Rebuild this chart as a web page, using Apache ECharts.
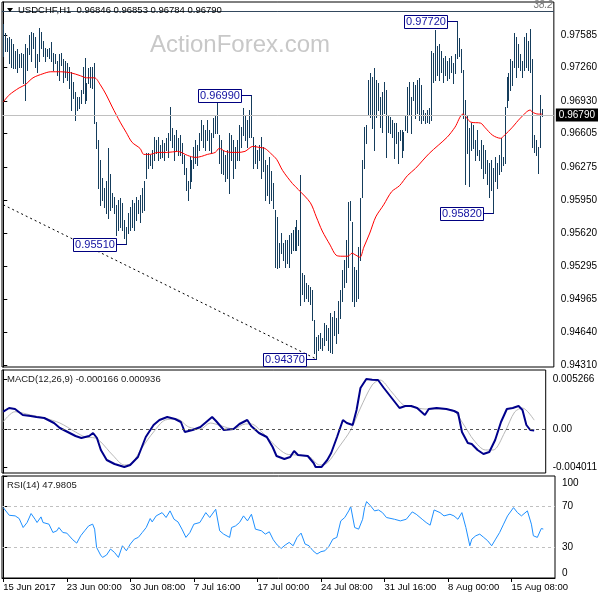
<!DOCTYPE html>
<html><head><meta charset="utf-8">
<script src="https://cdn.jsdelivr.net/npm/echarts@6/dist/echarts.min.js"></script>
<style>html,body{margin:0;padding:0;background:#fff}#c{width:600px;height:600px}</style>
</head><body><div id="c"></div>
<script>
const symbolName = 'USDCHF,H1';
const lastOHLC = [0.96846, 0.96853, 0.96784, 0.96790];
const lastPrice = 0.96790;
const watermark = 'ActionForex.com';

const barHigh = [
0.9769,0.9760,0.9755,0.9756,0.9754,0.9750,0.9743,0.9745,0.9740,0.9741,
0.9740,0.9750,0.9746,0.9758,0.9761,0.9760,0.9756,0.9740,0.9765,0.9761,
0.9753,0.9746,0.9745,0.9746,0.9752,0.9741,0.9740,0.9733,0.9740,0.9741,
0.9735,0.9733,0.9731,0.9727,0.9722,0.9712,0.9702,0.9697,0.9697,0.9704,
0.9727,0.9736,0.9711,0.9726,0.9727,0.9727,0.9731,0.9672,0.9654,0.9634,
0.9617,0.9607,0.9614,0.9646,0.9621,0.9602,0.9598,0.9590,0.9595,0.9597,
0.9592,0.9575,0.9568,0.9582,0.9588,0.9595,0.9592,0.9598,0.9595,0.9600,
0.9607,0.9614,0.9641,0.9641,0.9639,0.9644,0.9657,0.9654,0.9657,0.9649,
0.9654,0.9651,0.9656,0.9661,0.9687,0.9666,0.9659,0.9664,0.9656,0.9659,
0.9651,0.9639,0.9627,0.9614,0.9637,0.9634,0.9647,0.9654,0.9649,0.9661,
0.9674,0.9669,0.9664,0.9674,0.9664,0.9661,0.9676,0.9679,0.9694,0.9659,
0.9654,0.9644,0.9639,0.9644,0.9661,0.9659,0.9654,0.9647,0.9654,0.9669,
0.9667,0.9686,0.9679,0.9674,0.9684,0.9699,0.9657,0.9649,0.9644,0.9649,
0.9657,0.9647,0.9634,0.9629,0.9637,0.9624,0.9612,0.9585,0.9578,0.9552,
0.9562,0.9552,0.9555,0.9555,0.9560,0.9562,0.9565,0.9568,0.9575,0.9565,
0.9620,0.9522,0.9520,0.9512,0.9510,0.9508,0.9505,0.9476,0.9459,0.9461,
0.9463,0.9458,0.9473,0.9471,0.9468,0.9483,0.9479,0.9485,0.9478,0.9495,
0.9505,0.9525,0.9535,0.9555,0.9593,0.9594,0.9573,0.9528,0.9525,0.9548,
0.9597,0.9634,0.9667,0.9669,0.9714,0.9721,0.9717,0.9726,0.9714,0.9711,
0.9697,0.9702,0.9712,0.9704,0.9679,0.9677,0.9674,0.9671,0.9671,0.9662,
0.9664,0.9664,0.9662,0.9679,0.9707,0.9712,0.9697,0.9712,0.9709,0.9714,
0.9716,0.9709,0.9684,0.9681,0.9684,0.9686,0.9743,0.9741,0.9763,0.9748,
0.9750,0.9743,0.9736,0.9738,0.9733,0.9736,0.9738,0.9731,0.9740,0.9772,
0.9755,0.9745,0.9724,0.9694,0.9679,0.9666,0.9671,0.9669,0.9654,0.9664,
0.9644,0.9654,0.9649,0.9644,0.9634,0.9631,0.9634,0.9627,0.9637,0.9631,
0.9639,0.9656,0.9637,0.9687,0.9717,0.9721,0.9735,0.9733,0.9760,0.9756,
0.9750,0.9740,0.9733,0.9756,0.9760,0.9753,0.9764,0.9735,0.9659,0.9654,
0.9647,0.9699,0.96853];

const barLow = [
0.9738,0.9743,0.9743,0.9731,0.9727,0.9726,0.9726,0.9722,0.9727,0.9727,
0.9711,0.9694,0.9724,0.9740,0.9733,0.9746,0.9727,0.9722,0.9733,0.9746,
0.9738,0.9733,0.9738,0.9736,0.9733,0.9724,0.9731,0.9719,0.9714,0.9729,
0.9712,0.9717,0.9714,0.9706,0.9684,0.9696,0.9674,0.9684,0.9686,0.9691,
0.9701,0.9691,0.9694,0.9711,0.9707,0.9706,0.9671,0.9646,0.9607,0.9590,
0.9595,0.9588,0.9582,0.9577,0.9585,0.9588,0.9582,0.9560,0.9565,0.9568,
0.9565,0.9557,0.9551,0.9562,0.9565,0.9568,0.9565,0.9575,0.9582,0.9573,
0.9583,0.9585,0.9617,0.9627,0.9629,0.9627,0.9634,0.9641,0.9634,0.9636,
0.9637,0.9634,0.9644,0.9637,0.9654,0.9647,0.9634,0.9644,0.9639,0.9639,
0.9631,0.9621,0.9605,0.9595,0.9607,0.9614,0.9627,0.9631,0.9629,0.9644,
0.9654,0.9647,0.9644,0.9654,0.9644,0.9641,0.9657,0.9661,0.9661,0.9631,
0.9622,0.9621,0.9614,0.9617,0.9602,0.9634,0.9617,0.9627,0.9634,0.9634,
0.9647,0.9659,0.9654,0.9647,0.9657,0.9657,0.9627,0.9631,0.9627,0.9634,
0.9617,0.9624,0.9595,0.9600,0.9592,0.9595,0.9587,0.9528,0.9527,0.9528,
0.9542,0.9535,0.9528,0.9532,0.9528,0.9542,0.9545,0.9545,0.9545,0.9550,
0.9491,0.9502,0.9495,0.9498,0.9495,0.9492,0.9476,0.9443,0.9437,0.9446,
0.9448,0.9446,0.9451,0.9456,0.9446,0.9444,0.9443,0.9461,0.9453,0.9463,
0.9478,0.9495,0.9508,0.9513,0.9528,0.9575,0.9495,0.9490,0.9495,0.9498,
0.9535,0.9598,0.9627,0.9651,0.9679,0.9677,0.9666,0.9644,0.9677,0.9684,
0.9667,0.9662,0.9681,0.9637,0.9662,0.9661,0.9657,0.9636,0.9651,0.9631,
0.9654,0.9637,0.9644,0.9664,0.9662,0.9679,0.9661,0.9694,0.9676,0.9681,
0.9674,0.9671,0.9674,0.9671,0.9672,0.9671,0.9674,0.9712,0.9714,0.9719,
0.9714,0.9722,0.9712,0.9719,0.9714,0.9716,0.9722,0.9711,0.9721,0.9736,
0.9738,0.9722,0.9676,0.9611,0.9641,0.9609,0.9644,0.9646,0.9634,0.9639,
0.9634,0.9627,0.9617,0.9622,0.9611,0.9598,0.9605,0.9582,0.9614,0.9607,
0.9621,0.9624,0.9629,0.9631,0.9687,0.9694,0.9704,0.9709,0.9727,0.9717,
0.9727,0.9724,0.9717,0.9724,0.9727,0.9724,0.9722,0.9647,0.9642,0.9639,
0.9622,0.9647,0.96784];

const maIndex = [0,3,8,11,15,20,24,29,34,39,42,46,49,52,55,59,62,65,69,71,74,78,83,88,93,97,100,103,107,109,112,115,118,122,126,129,132,135,138,141,146,149,155,158,161,165,168,171,174,176,178,180,182,185,188,192,196,200,204,208,215,224,228,232,236,241,243,247,251,253,257,261,266,267,270,272];
const maValue = [0.9692,0.9699,0.9706,0.9709,0.9716,0.9720,0.9722,0.9722,0.9721,0.9718,0.9716,0.9716,0.9709,0.9699,0.9687,0.9672,0.9662,0.9652,0.9646,0.9640,0.9640,0.9642,0.9642,0.9643,0.9639,0.9637,0.9638,0.9640,0.9642,0.9646,0.9643,0.9642,0.9642,0.9643,0.9648,0.9647,0.9646,0.9641,0.9635,0.9624,0.9611,0.9605,0.9592,0.9578,0.9564,0.9550,0.9540,0.9539,0.9539,0.9542,0.9540,0.9538,0.9548,0.9562,0.9578,0.9590,0.9603,0.9609,0.9619,0.9626,0.9641,0.9657,0.9667,0.9680,0.9672,0.9671,0.9667,0.9659,0.9656,0.9659,0.9667,0.9676,0.9684,0.9682,0.9680,0.9680];

const trendIndex = [0, 158];
const trendPrice = [0.9590, 0.9437];
const extremeIndex = [62, 125, 158, 229, 247];
const extremePrice = [0.95510, 0.96990, 0.94370, 0.97720, 0.95820];
const fibLevel = 0.97823;
const fibText = '38.2';
const priceTicks = [0.94310,0.94640,0.94965,0.95295,0.95620,0.95950,0.96275,0.96605,0.96930,0.97260,0.97585];

const macdIndex = [0,3,6,10,14,17,21,26,29,33,37,40,44,46,48,50,53,57,62,65,69,73,77,80,84,88,91,93,97,101,104,107,109,113,118,121,125,127,131,135,138,140,144,147,149,151,156,159,160,163,166,168,171,174,176,179,181,183,186,189,192,195,199,203,206,209,212,216,218,222,227,231,233,235,238,240,243,246,249,252,255,258,261,264,266,268,270,272];
const macdValue = [0.001823,0.002213,0.002108,0.001476,0.001370,0.001265,0.001159,0.000632,0.000105,-0.000316,
-0.000738,-0.000949,-0.000738,-0.000422,-0.000949,-0.002213,-0.003267,-0.003689,-0.004011,-0.003794,
-0.002951,-0.000843,0.000422,0.000949,0.001265,0.001054,0.000738,-0.000316,-0.000105,0.000211,
0.000738,0.001265,0.000843,-0.000105,0,0.000527,0.000949,0.000316,-0.000422,-0.000843,
-0.001897,-0.002846,-0.003162,-0.002951,-0.002319,-0.002740,-0.002846,-0.003584,-0.004011,-0.004011,
-0.003267,-0.002530,-0.000843,0.000949,0.000632,0.000422,0.002003,0.004321,0.005266,0.005200,
0.005165,0.004321,0.003267,0.002213,0.002424,0.002424,0.002213,0.001476,0.002108,0.002213,
0.002108,0.001897,0.001686,-0.000316,-0.001476,-0.001581,-0.002213,-0.002635,-0.002424,-0.001159,
0.000738,0.002108,0.002213,0.002424,0.002003,0.000422,-0.000105,-0.000166];
const signalIndex = [0,6,14,21,29,37,42,47,50,56,62,66,71,77,83,89,95,101,106,112,118,124,127,133,139,145,150,157,162,166,172,178,183,189,193,199,205,210,216,222,230,236,241,247,251,257,262,266,272];
const signalValue = [0.000769,0.001823,0.001476,0.001159,0.000632,-0.000316,-0.000843,-0.000949,-0.001370,-0.002740,
-0.003794,-0.003584,-0.002003,-0.000316,0.000949,0.001054,0.000211,0,0.000632,0.000316,
0,0.000527,0.000527,-0.000422,-0.001686,-0.002635,-0.002740,-0.002951,-0.003794,-0.003584,
-0.001897,-0.000105,0.002213,0.004638,0.005165,0.003900,0.002530,0.002319,0.002108,0.002108,
0.002003,0.000422,-0.001159,-0.002213,-0.002213,-0.000316,0.001792,0.002213,0.000936];
const macdTicks = [0.005266, 0, -0.004011];

const rsiIndex = [0,1,3,6,8,9,10,12,14,16,17,19,20,23,25,27,28,30,32,35,37,39,41,43,45,46,47,49,50,52,54,56,58,60,62,64,66,68,70,72,74,75,77,80,82,84,86,88,90,92,94,96,99,100,102,104,107,109,111,114,115,117,119,121,123,125,127,130,132,134,136,138,140,142,144,146,148,150,152,154,156,158,160,162,164,166,168,170,172,174,175,177,179,181,182,183,185,187,189,191,193,197,200,203,206,208,209,211,213,215,217,220,222,225,227,229,231,233,235,236,238,240,242,244,246,248,250,252,254,257,259,261,262,264,266,267,269,271,272];
const rsiValue = [69.0,68.0,61.5,60.9,58.3,59.3,49.5,54.4,63.2,57.6,
54.4,59.9,54.4,52.8,44.6,46.3,49.5,44.6,44.0,37.5,
34.2,41.4,46.3,51.1,52.8,47.9,30.0,22.5,20.2,22.5,
28.4,25.1,20.2,31.6,26.7,33.3,38.1,39.8,44.6,49.5,
58.3,55.0,60.9,64.1,59.3,65.8,57.6,55.0,47.9,39.8,
44.6,52.8,54.4,57.6,64.1,59.3,67.4,46.3,43.0,39.8,
49.5,51.1,54.4,60.9,56.0,62.5,47.9,46.3,43.0,45.3,
37.5,32.3,29.0,32.3,34.9,31.6,39.8,44.0,33.3,31.6,
26.7,23.5,25.8,26.7,31.0,38.1,39.8,56.0,59.3,65.8,
70.0,49.5,47.9,57.6,69.0,74.9,70.7,65.8,66.7,64.1,
59.3,57.6,56.0,57.6,64.8,62.5,60.9,57.6,54.4,51.8,
66.7,64.1,60.9,62.5,60.9,57.6,64.1,49.5,31.6,38.1,
41.4,43.0,39.8,36.5,31.6,38.1,44.6,52.8,60.9,69.0,
64.1,60.9,60.9,65.8,52.8,41.4,39.8,48.5,47.9805];
const rsiTicks = [0, 30, 70, 100];
const rsiLevels = [30, 70];

const xTickIndex = [0, 32, 64, 96, 128, 160, 192, 224, 256];
const xTickLabels = ['15 Jun 2017','23 Jun 00:00','30 Jun 08:00','7 Jul 16:00','17 Jul 00:00','24 Jul 08:00','31 Jul 16:00','8 Aug 00:00','15 Aug 08:00'];

const FONT = "'Liberation Sans', Arial, sans-serif";
const zip = (a, b) => a.map((v, k) => [v, b[k]]);
const X_MIN = -0.65, X_MAX = 277.9;

function mkX(k, show) {
  return {
    type: 'value', gridIndex: k, min: X_MIN, max: X_MAX, show: show,
    splitLine: {show: false},
    axisLine: {show: show, lineStyle: {color: '#000'}},
    axisTick: {show: show, customValues: xTickIndex, length: 4, lineStyle: {color: '#000'}},
    axisLabel: {show: show, customValues: xTickIndex,
      formatter: v => xTickLabels[xTickIndex.indexOf(v)] || '',
      align: 'left', margin: 4, fontSize: 9.5, color: '#000', fontFamily: FONT}
  };
}
function mkY(k, min, max, ticks, fmt, rich) {
  return {
    type: 'value', gridIndex: k, position: 'right', min: min, max: max,
    splitLine: {show: false},
    axisLine: {show: true, lineStyle: {color: '#000'}},
    axisTick: {show: true, customValues: ticks, length: 4, lineStyle: {color: '#000'}},
    axisLabel: {customValues: ticks, formatter: fmt, margin: 7, fontSize: 10, color: '#000', fontFamily: FONT, rich: rich}
  };
}

function renderBar(params, api) {
  const i = api.value(0);
  const top = api.coord([i, api.value(1)]);
  const bot = api.coord([i, api.value(2)]);
  const x = Math.round(top[0]) + 0.5;
  return {type: 'line', shape: {x1: x, y1: Math.round(top[1]), x2: x, y2: Math.round(bot[1]) + 1},
    style: {stroke: '#153d5c', lineWidth: 1}};
}
function renderExtreme(params, api) {
  const pt = api.coord([api.value(0), api.value(1)]);
  const txt = api.value(1).toFixed(5);
  const bw = 43, bh = 13, gap = 10;
  const px = Math.round(pt[0]) + 0.5;
  const y = Math.round(pt[1]) + 0.5;
  const xr = px - gap;
  return {type: 'group', children: [
    {type: 'line', shape: {x1: xr, y1: y, x2: px, y2: y}, style: {stroke: '#000080', lineWidth: 1}},
    {type: 'rect', shape: {x: xr - bw, y: y - 6, width: bw, height: bh}, style: {fill: '#fff', stroke: '#000080', lineWidth: 1}},
    {type: 'text', style: {text: txt, x: xr - bw / 2, y: y + 0.5, align: 'center', verticalAlign: 'middle', fill: '#1010a0', font: '11px ' + FONT}}
  ]};
}

const chart = echarts.init(document.getElementById('c'), null, {renderer: 'canvas'});
const macdLast = macdValue[macdValue.length - 1];
const sigLast = signalValue[signalValue.length - 1];
const rsiLast = rsiValue[rsiValue.length - 1];

chart.setOption({
  animation: false,
  backgroundColor: '#fff',
  textStyle: {fontFamily: FONT},
  grid: [
    {left: 2, right: 45, top: 2, height: 365, show: true, borderColor: '#000', borderWidth: 1},
    {left: 2, right: 45, top: 370, height: 103, show: true, borderColor: '#000', borderWidth: 1},
    {left: 2, right: 45, top: 476, height: 102, show: true, borderColor: '#000', borderWidth: 1}
  ],
  xAxis: [mkX(0, false), mkX(1, false), mkX(2, true)],
  yAxis: [
    mkY(0, 0.94291, 0.97912, priceTicks, v => v.toFixed(5)),
    mkY(1, -0.004638, 0.006219, macdTicks, v => v === 0 ? '0.00' : v.toFixed(6)),
    mkY(2, 0, 100, rsiTicks,
      v => v === 100 ? '{t|100}' : (v === 0 ? '{b|0}' : '{n|' + v + '}'),
      {t: {padding: [14, 0, 0, 0], fontSize: 10, color: '#000', fontFamily: FONT},
       b: {padding: [0, 0, 10, 0], fontSize: 10, color: '#000', fontFamily: FONT},
       n: {fontSize: 10, color: '#000', fontFamily: FONT}})
  ],
  graphic: [
    {type: 'polygon', shape: {points: [[7, 8], [13, 8], [10, 12]]}, style: {fill: '#000'}, z: 20},
    {type: 'text', x: 18, y: 10, z: 20, style: {text: symbolName + '  ' + lastOHLC.map(v => v.toFixed(5)).join(' '), fill: '#000', font: '9.5px ' + FONT, verticalAlign: 'middle'}},
    {type: 'text', x: 150, y: 45, z: 1, style: {text: watermark, fill: '#c8c8c8', font: '24px ' + FONT, verticalAlign: 'middle'}},
    {type: 'text', x: 7, y: 379, z: 20, style: {text: 'MACD(12,26,9) ' + macdLast.toFixed(6) + ' ' + sigLast.toFixed(6), fill: '#202020', font: '9.5px ' + FONT, verticalAlign: 'middle'}},
    {type: 'text', x: 7, y: 485, z: 20, style: {text: 'RSI(14) ' + rsiLast.toFixed(4), fill: '#202020', font: '9.5px ' + FONT, verticalAlign: 'middle'}}
  ],
  series: [
    {type: 'line', xAxisIndex: 0, yAxisIndex: 0, data: [[0, lastPrice]], symbol: 'none', lineStyle: {opacity: 0}, z: 1, silent: true,
     markLine: {symbol: 'none', silent: true, animation: false, precision: 6, data: [
       {yAxis: lastPrice, lineStyle: {color: '#c0c0c0', width: 1, type: 'solid'},
        label: {show: true, position: 'end', formatter: lastPrice.toFixed(5), backgroundColor: '#000', color: '#fff', padding: [2, 3, 1, 3], distance: 2, fontSize: 10, fontFamily: FONT}},
       {yAxis: fibLevel, lineStyle: {color: '#34495e', width: 1, type: 'solid'},
        label: {show: true, position: 'insideEndTop', formatter: fibText, color: '#777', fontStyle: 'italic', fontSize: 10, distance: 1, fontFamily: FONT}}
     ]}},
    {type: 'custom', xAxisIndex: 0, yAxisIndex: 0, renderItem: renderBar, z: 2, silent: true,
     encode: {x: 0, y: [1, 2]},
     data: barHigh.map((h, i) => [i, h, barLow[i]])},
    {type: 'line', xAxisIndex: 0, yAxisIndex: 0, data: zip(maIndex, maValue), symbol: 'none', smooth: 0.3,
     lineStyle: {color: '#ff0000', width: 1}, z: 3, silent: true},
    {type: 'line', xAxisIndex: 0, yAxisIndex: 0, data: zip(trendIndex, trendPrice), symbol: 'none',
     lineStyle: {color: '#000', width: 1, type: [2, 3]}, z: 3, silent: true},
    {type: 'custom', xAxisIndex: 0, yAxisIndex: 0, renderItem: renderExtreme, z: 5, silent: true, clip: false,
     data: zip(extremeIndex, extremePrice)},
    {type: 'line', xAxisIndex: 1, yAxisIndex: 1, data: zip(signalIndex, signalValue), symbol: 'none', smooth: 0.3,
     lineStyle: {color: '#b8b8b8', width: 1}, z: 2, silent: true,
     markLine: {symbol: 'none', silent: true, precision: 6, data: [{yAxis: 0}], label: {show: false},
       lineStyle: {color: '#555', width: 1, type: [3, 3]}}},
    {type: 'line', xAxisIndex: 1, yAxisIndex: 1, data: zip(macdIndex, macdValue), symbol: 'none',
     lineStyle: {color: '#00008b', width: 2}, z: 3, silent: true},
    {type: 'line', xAxisIndex: 2, yAxisIndex: 2, data: zip(rsiIndex, rsiValue), symbol: 'none',
     lineStyle: {color: '#1e90ff', width: 1}, z: 3, silent: true,
     markLine: {symbol: 'none', silent: true, data: rsiLevels.map(v => ({yAxis: v})), label: {show: false},
       lineStyle: {color: '#c0c0c0', width: 1, type: [3, 3]}}}
  ]
});
</script></body></html>
